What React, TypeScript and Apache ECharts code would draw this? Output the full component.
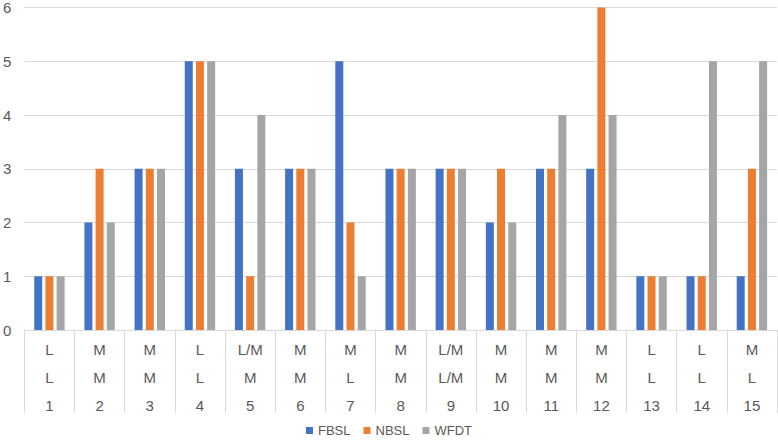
import React, { useEffect, useRef } from "react";
import * as echarts from "echarts";

const categories = ["1","2","3","4","5","6","7","8","9","10","11","12","13","14","15"];
const row1 = ["L","M","M","L","L/M","M","M","M","L/M","M","M","M","L","L","M"];
const row2 = ["L","M","M","L","M","M","L","M","L/M","M","M","M","L","L","L"];
const fbsl = [1,2,3,5,3,3,5,3,3,2,3,3,1,1,1];
const nbsl = [1,3,3,5,1,3,2,3,3,3,3,6,1,1,3];
const wfdt = [1,2,3,5,4,3,1,3,3,2,4,4,1,5,5];
const yTicks = [0,1,2,3,4,5,6];

export default function App() {
  const ref = useRef<HTMLDivElement>(null);
  useEffect(() => {
    const chart = echarts.init(ref.current!, null, { renderer: "svg" });
    const font = "Helvetica, Arial, 'Liberation Sans', sans-serif";
    chart.setOption({
      animation: false,
      textStyle: { fontFamily: font },
      grid: { left: 23, right: 1, top: 7, bottom: 112 },
      legend: {
        top: 422,
        left: "center",
        padding: [2, 5],
        itemWidth: 7,
        itemHeight: 7,
        itemGap: 13,
        icon: "rect",
        textStyle: { color: "#595959", fontSize: 13, fontFamily: font },
        data: ["FBSL", "NBSL", "WFDT"],
      },
      xAxis: {
        type: "category",
        data: categories,
        axisLine: { lineStyle: { color: "#d9d9d9", width: 1 } },
        axisTick: { show: true, length: 83, interval: 0, lineStyle: { color: "#d9d9d9" } },
        axisLabel: {
          interval: 0,
          margin: 5,
          color: "#595959",
          fontSize: 15,
          lineHeight: 28,
          fontFamily: font,
          formatter: (v: string, i: number) => `${row1[i]}\n${row2[i]}\n${v}`,
        },
      },
      yAxis: {
        type: "value",
        min: yTicks[0],
        max: yTicks[yTicks.length - 1],
        interval: 1,
        axisLabel: { color: "#595959", fontSize: 15, margin: 13, fontFamily: font },
        splitLine: { lineStyle: { color: "#d9d9d9" } },
        axisLine: { show: false },
        axisTick: { show: false },
      },
      series: [
        { name: "FBSL", type: "bar", data: fbsl, barWidth: 8, barGap: "40%", itemStyle: { color: "#4472C4" } },
        { name: "NBSL", type: "bar", data: nbsl, barWidth: 8, barGap: "40%", itemStyle: { color: "#ED7D31" } },
        { name: "WFDT", type: "bar", data: wfdt, barWidth: 8, barGap: "40%", itemStyle: { color: "#A5A5A5" } },
      ],
    });
    return () => chart.dispose();
  }, []);
  return <div ref={ref} style={{ width: 778, height: 442, position: "absolute", left: 0, top: 0 }} />;
}
